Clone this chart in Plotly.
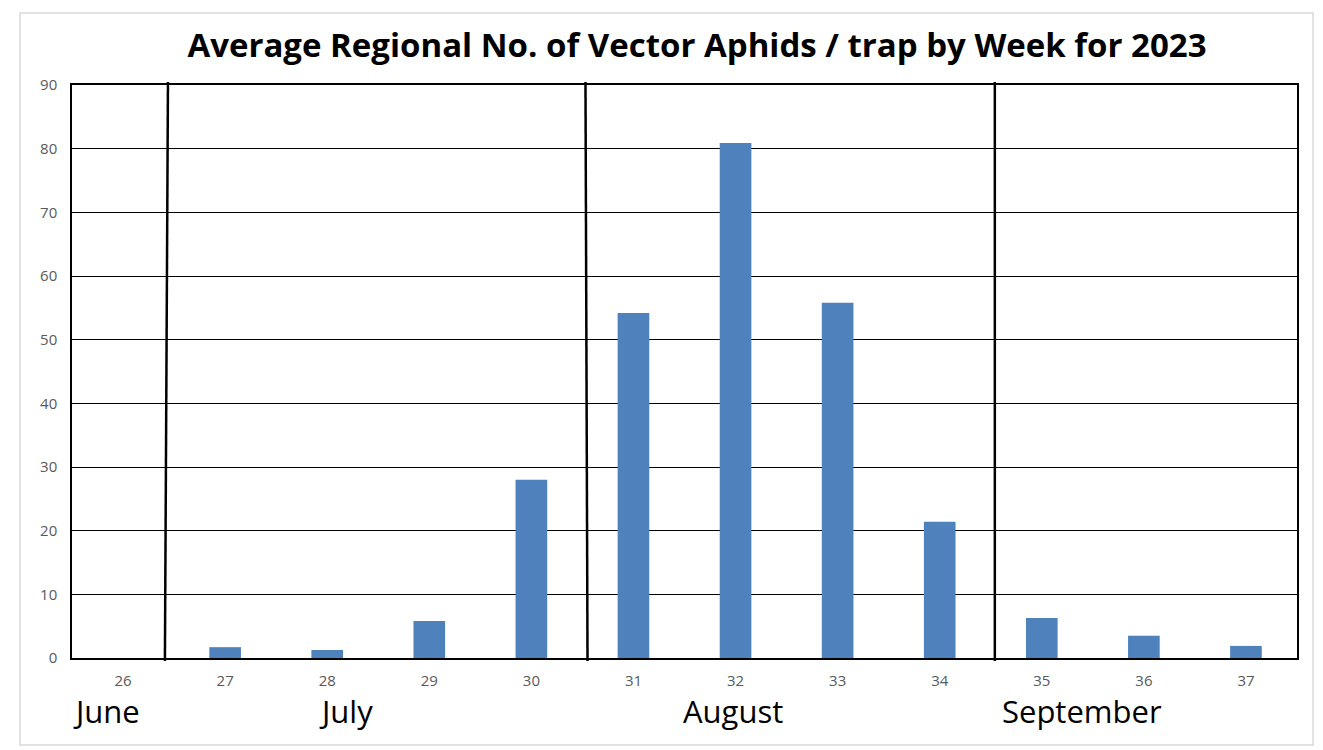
import plotly.graph_objects as go

weeks = [26, 27, 28, 29, 30, 31, 32, 33, 34, 35, 36, 37]
avg_aphids = [0, 1.7, 1.25, 5.8, 28.0, 54.2, 80.9, 55.8, 21.4, 6.3, 3.5, 1.9]
y_ticks = [0, 10, 20, 30, 40, 50, 60, 70, 80, 90]
months = ["June", "July", "August", "September"]
month_x = [106, 346, 733, 1082]          # screen pixel centres of month labels
month_breaks = [(26.44, 26.41), (30.53, 30.55), (34.54, 34.54)]

OFF = 8  # page body margin
SW, SH = 1323, 750
W, H = SW - OFF, SH - OFF
L, T = 72 - OFF, 85 - OFF
R, B = SW - 1297, SH - 658
pw, ph = W - L - R, H - T - B

def px(p):
    return (p - OFF - L) / pw

def py(p):
    return (H - B - (p - OFF)) / ph

fig = go.Figure()
fig.add_trace(go.Bar(x=weeks, y=avg_aphids, marker_color="#4f81bd",
                     marker_line_width=0, width=0.31))

shapes = []
shapes.append(dict(type="rect", xref="paper", yref="paper",
                   x0=px(20), x1=px(1313), y0=py(745), y1=py(13),
                   line=dict(color="#d9d9d9", width=1.5), layer="below"))
for x0, x1 in month_breaks:
    shapes.append(dict(type="line", xref="x", yref="paper",
                       x0=x0, x1=x1, y0=py(82), y1=py(661),
                       line=dict(color="black", width=2.5)))

annotations = []
for m, mx in zip(months, month_x):
    annotations.append(dict(text=m, xref="paper", yref="paper", x=px(mx), y=py(711),
                            xanchor="center", yanchor="middle", showarrow=False,
                            font=dict(family="Open Sans", size=31, color="black")))

fig.update_layout(
    width=W, height=H,
    margin=dict(l=L, r=R, t=T, b=B),
    paper_bgcolor="white", plot_bgcolor="white",
    showlegend=False,
    title=dict(text="<b>Average Regional No. of Vector Aphids / trap by Week for 2023</b>",
               xref="paper", x=px(697), xanchor="center",
               yref="container", y=1 - (45 - OFF) / H, yanchor="middle",
               font=dict(family="Open Sans", size=33, color="black")),
    shapes=shapes, annotations=annotations,
    xaxis=dict(tickmode="array", tickvals=weeks, ticktext=[str(w) for w in weeks],
               range=[25.5, 37.5], showgrid=False, showline=True, linecolor="black",
               linewidth=1.5, mirror=True, ticks="", ticklabelstandoff=8,
               tickfont=dict(family="Open Sans", size=15, color="#595959")),
    yaxis=dict(tickmode="array", tickvals=y_ticks, range=[0, 90],
               showgrid=True, gridcolor="black", gridwidth=1,
               showline=True, linecolor="black", linewidth=1.5, mirror=True,
               zeroline=False, ticks="", ticklabelstandoff=10,
               tickfont=dict(family="Open Sans", size=15, color="#595959")),
)

fig.write_html("out.html")
